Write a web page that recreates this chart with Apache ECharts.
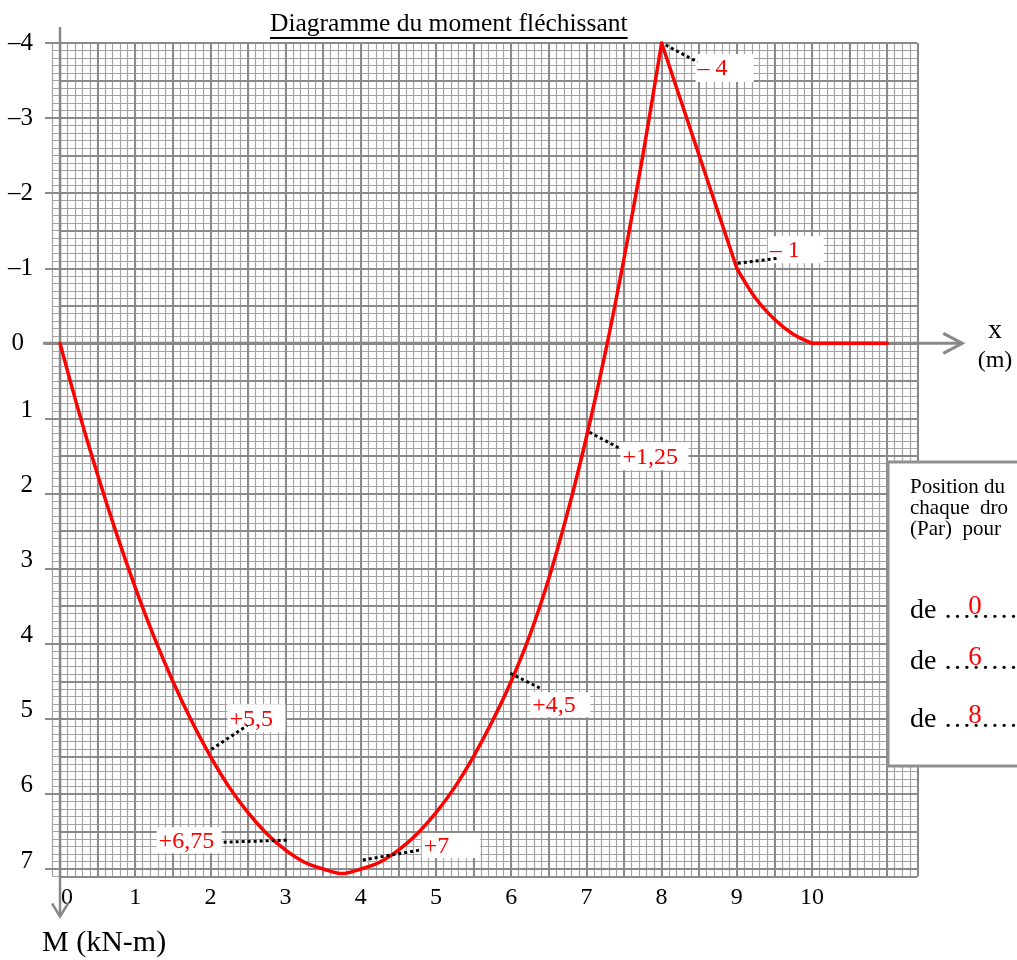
<!DOCTYPE html>
<html><head><meta charset="utf-8">
<script src="https://cdn.jsdelivr.net/npm/echarts@6/dist/echarts.min.js"></script>
<style>html,body{margin:0;padding:0;background:#fff;overflow:hidden}#c{width:1017px;height:960px}</style>
</head><body><div id="c"></div>
<script>
// ---------------- data ----------------
const titleText = 'Diagramme du moment fléchissant';
const xName = 'x';
const xUnit = '(m)';
const yName = 'M (kN-m)';
const xTicks = [0, 1, 2, 3, 4, 5, 6, 7, 8, 9, 10];
const yTicks = [-4, -3, -2, -1, 0, 1, 2, 3, 4, 5, 6, 7];
const momentX = [0, 0.25, 0.5, 0.75, 1, 1.25, 1.5, 1.75, 2, 2.25, 2.5, 2.75, 3, 3.25, 3.5, 3.75, 4, 4.25, 4.5, 4.75, 5, 5.25, 5.5, 5.75, 6, 6.25, 6.5, 6.75, 7, 7.25, 7.5, 7.75, 8, 9, 9.25, 9.5, 9.75, 10, 11];
const momentM = [0, 0.91, 1.75, 2.53, 3.25, 3.91, 4.5, 5.03, 5.5, 5.91, 6.25, 6.53, 6.75, 6.91, 7.0, 7.06, 7.0, 6.91, 6.75, 6.53, 6.25, 5.91, 5.5, 5.03, 4.5, 3.88, 3.13, 2.25, 1.25, 0.13, -1.13, -2.5, -4, -1, -0.6, -0.32, -0.12, 0, 0];
const kinkX = [8, 9, 10];
const annX = [8, 9, 7, 6, 2, 3, 4];
const annM = [-4, -1, 1.25, 4.5, 5.5, 6.75, 7];
const annText = ['– 4', '– 1', '+1,25', '+4,5', '+5,5', '+6,75', '+7'];
const boxLines = ['Position du', 'chaque  dro', '(Par)  pour'];
const boxWord = 'de';
const boxFrom = ['0', '6', '8'];

// ---------------- styling ----------------
const SERIF = '"Liberation Serif", "Times New Roman", serif';
const RED = '#ff0000';
const GRIDC = '#8a8a8a';
// leader start a, leader end b, box [dx, dy, w, h] relative to annotated point (pixels)
const annStyle = [
  {a: [4, 2], b: [36, 19], box: [34, 11, 58, 28]},
  {a: [1, -5], b: [41, -10], box: [31, -32, 56, 27]},
  {a: [3, -5], b: [33, 11], box: [34, 5, 68, 28]},
  {a: [-1, -8], b: [29, 7], box: [19, 11, 60, 25]},
  {a: [1, -7], b: [37, -31], box: [17, -52, 58, 28]},
  {a: [1, -10], b: [-63, -8], box: [-129, -23, 65, 26]},
  {a: [2, -9], b: [59, -19], box: [61, -36, 58, 25]}
];

const yMinAll = -4, yMaxAll = 7.1, xMinAll = -0.1, xMaxAll = 11.4;

const chart = echarts.init(document.getElementById('c'), null, {renderer: 'canvas'});

// build curve segments split at kinks
const pts = momentX.map((x, i) => [x, momentM[i]]);
const bounds = [momentX[0]].concat(kinkX, [momentX[momentX.length - 1]]);
const curveSeries = [];
for (let k = 0; k < bounds.length - 1; k++) {
  curveSeries.push({
    type: 'line', xAxisIndex: 0, yAxisIndex: 0, z: 3,
    data: pts.filter(p => p[0] >= bounds[k] && p[0] <= bounds[k + 1]),
    smooth: 0.3, symbol: 'none', silent: true,
    lineStyle: {color: RED, width: 3.5, cap: 'round', join: 'round'}
  });
}

const hidden = {axisLine: {show: false}, axisTick: {show: false}, axisLabel: {show: false}};
const minorLine = {show: true, lineStyle: {color: '#a4a4a4', width: 1.2}};
const majorLine = {show: true, lineStyle: {color: GRIDC, width: 2}};

const option = {
  animation: false,
  backgroundColor: '#fff',
  grid: [
    {left: 52.5, right: 99.7, top: 43, bottom: 83.5},
    {left: 60, right: 99.7, top: 43, bottom: 83.5},
    {left: 60, right: 205, top: 43, bottom: 91}
  ],
  xAxis: [
    Object.assign({gridIndex: 0, type: 'value', min: xMinAll, max: xMaxAll, interval: 0.1, splitLine: minorLine, z: 0}, hidden),
    Object.assign({gridIndex: 1, type: 'value', min: 0, max: xMaxAll, interval: 0.5, splitLine: majorLine, z: 1}, hidden),
    {gridIndex: 2, type: 'value', min: xTicks[0], max: xTicks[xTicks.length - 1], interval: 1, position: 'bottom',
      axisLine: {show: false}, splitLine: {show: false},
      axisTick: {show: true, length: 14, lineStyle: {color: GRIDC, width: 2}},
      axisLabel: {margin: 17, fontFamily: SERIF, fontSize: 24, color: '#000',
        formatter: v => v === 0 ? '{z|0}' : String(v),
        rich: {z: {padding: [0, 0, 0, 14], fontFamily: SERIF, fontSize: 24, color: '#000'}}}
    }
  ],
  yAxis: [
    Object.assign({gridIndex: 0, type: 'value', inverse: true, min: yMinAll, max: yMaxAll, interval: 0.1, splitLine: minorLine, z: 0}, hidden),
    Object.assign({gridIndex: 1, type: 'value', inverse: true, min: yMinAll, max: yMaxAll, interval: 0.5, splitLine: majorLine, z: 1}, hidden),
    {gridIndex: 2, type: 'value', inverse: true, min: yTicks[0], max: yTicks[yTicks.length - 1], interval: 1, position: 'left',
      axisLine: {show: false}, splitLine: {show: false},
      axisTick: {show: true, length: 15, lineStyle: {color: GRIDC, width: 2}},
      axisLabel: {margin: 27, fontFamily: SERIF, fontSize: 25, color: '#000',
        formatter: v => v < 0 ? '–' + (-v) : (v === 0 ? '{z|0}' : '{p|' + v + '}'),
        rich: {
          z: {padding: [0, 9, 0, 0], fontFamily: SERIF, fontSize: 25, color: '#000'},
          p: {padding: [0, 0, 16, 0], fontFamily: SERIF, fontSize: 25, color: '#000'}
        }}
    }
  ],
  series: curveSeries.concat([{
    type: 'custom', xAxisIndex: 0, yAxisIndex: 0, z: 4, clip: false, silent: true,
    data: annX.map((x, i) => [x, annM[i]]),
    renderItem: (params, api) => {
      const i = params.dataIndex;
      const p = api.coord([api.value(0), api.value(1)]);
      const s = annStyle[i];
      return {type: 'group', children: [
        {type: 'rect', shape: {x: p[0] + s.box[0], y: p[1] + s.box[1], width: s.box[2], height: s.box[3]}, style: {fill: '#fff'}},
        {type: 'line', shape: {x1: p[0] + s.a[0], y1: p[1] + s.a[1], x2: p[0] + s.b[0], y2: p[1] + s.b[1]},
          style: {stroke: '#000', lineWidth: 3, lineDash: [3, 3]}},
        {type: 'text', x: p[0] + s.box[0] + 2, y: p[1] + s.box[1] + s.box[3] / 2 + 1,
          style: {text: annText[i], fill: RED, fontFamily: SERIF, fontSize: 24, align: 'left', verticalAlign: 'middle'}}
      ]};
    }
  }])
};
chart.setOption(option);

// --------- decorations positioned through the axes ---------
const toPx = (x, y) => chart.convertToPixel({gridIndex: 0}, [x, y]);
const o = toPx(0, 0);
const gTopLeft = toPx(xMinAll, yMinAll);
const gBotRight = toPx(xMaxAll, yMaxAll);
const axisStroke = {stroke: '#888', lineWidth: 3, fill: null};

const ctx = document.createElement('canvas').getContext('2d');
ctx.font = '25.5px ' + SERIF;
const titleW = ctx.measureText(titleText).width;
const titleX = 270;

const xEnd = gBotRight[0] + 45;
const yTop = gTopLeft[1] - 16;
const yEnd = gBotRight[1] + 40;

const graphics = [
  {type: 'line', z: 2, shape: {x1: o[0] - 17, y1: o[1], x2: xEnd, y2: o[1]}, style: axisStroke},
  {type: 'polyline', z: 2, shape: {points: [[xEnd - 19, o[1] - 10], [xEnd, o[1]], [xEnd - 19, o[1] + 10]]}, style: axisStroke},
  {type: 'line', z: 2, shape: {x1: o[0], y1: yTop, x2: o[0], y2: yEnd}, style: {stroke: '#888', lineWidth: 2.5}},
  {type: 'polyline', z: 2, shape: {points: [[o[0] - 8, yEnd - 13], [o[0], yEnd], [o[0] + 8, yEnd - 13]]}, style: {stroke: '#888', lineWidth: 2.5, fill: null}},
  {type: 'text', z: 10, x: titleX, y: 24, style: {text: titleText, fontFamily: SERIF, fontSize: 25.5, fill: '#000', verticalAlign: 'middle'}},
  {type: 'line', z: 10, shape: {x1: titleX, y1: 38, x2: titleX + titleW, y2: 38}, style: {stroke: '#000', lineWidth: 2}},
  {type: 'text', z: 10, x: 995, y: 331, style: {text: xName, fontFamily: SERIF, fontSize: 28, fill: '#000', align: 'center', verticalAlign: 'middle'}},
  {type: 'text', z: 10, x: 995, y: 361, style: {text: xUnit, fontFamily: SERIF, fontSize: 24, fill: '#000', align: 'center', verticalAlign: 'middle'}},
  {type: 'text', z: 10, x: 42, y: 943, style: {text: yName, fontFamily: SERIF, fontSize: 30, fill: '#000', align: 'left', verticalAlign: 'middle'}},
  {type: 'rect', z: 10, shape: {x: 888, y: 462, width: 160, height: 304}, style: {fill: '#fff', stroke: '#8f8f8f', lineWidth: 3}}
];
boxLines.forEach((t, i) => graphics.push({type: 'text', z: 11, x: 910, y: 487 + i * 21,
  style: {text: t, fontFamily: SERIF, fontSize: 21, fill: '#000', verticalAlign: 'middle'}}));
boxFrom.forEach((t, i) => {
  const yy = [611, 662, 720][i];
  graphics.push({type: 'text', z: 11, x: 910, y: yy,
    style: {text: boxWord + ' ………', fontFamily: SERIF, fontSize: 28, fill: '#000', verticalAlign: 'middle'}});
  graphics.push({type: 'text', z: 12, x: 975, y: yy - 4,
    style: {text: t, fontFamily: SERIF, fontSize: 27, fill: RED, align: 'center', verticalAlign: 'middle'}});
});
chart.setOption({graphic: graphics});
</script>
</body></html>
